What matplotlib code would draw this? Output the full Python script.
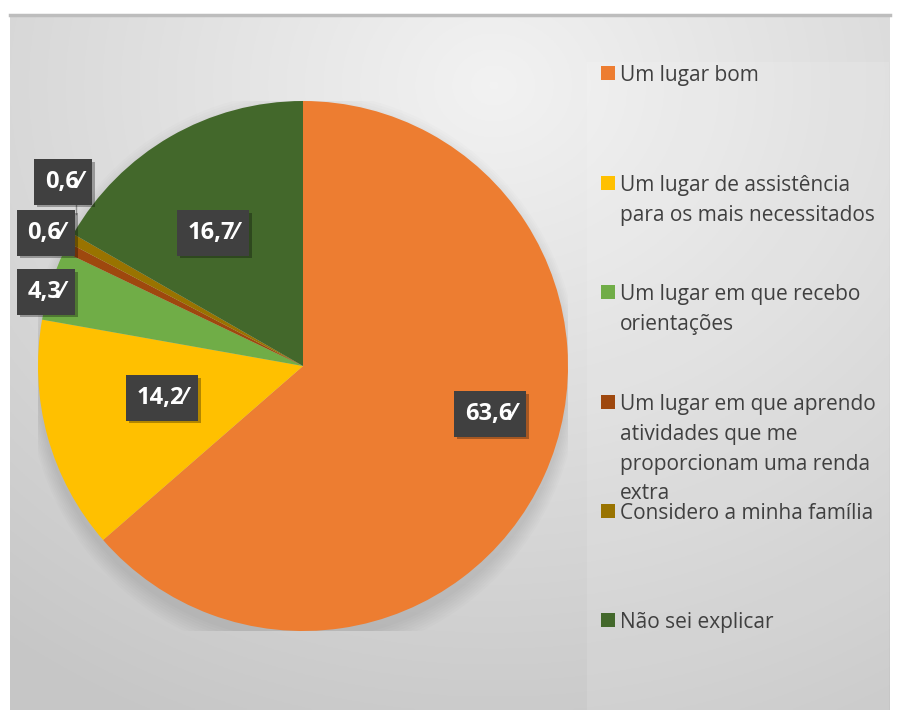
import numpy as np
import matplotlib.pyplot as plt
from matplotlib.patches import Rectangle, Ellipse
import matplotlib.patheffects as pe

# ---- data ----
categories = [
    "Um lugar bom",
    "Um lugar de assistência\npara os mais necessitados",
    "Um lugar em que recebo\norientações",
    "Um lugar em que aprendo\natividades que me\nproporcionam uma renda\nextra",
    "Considero a minha família",
    "Não sei explicar",
]
values = [63.6, 14.2, 4.3, 0.6, 0.6, 16.7]
colors = ["#ED7D31", "#FFC000", "#70AD47", "#9E480E", "#997300", "#43682B"]
value_labels = ["63,6⁄", "14,2⁄", "4,3⁄", "0,6⁄", "0,6⁄", "16,7⁄"]

# label box positions (pie data coords, radius = 1)
label_pos = [(0.706, -0.181), (-0.532, -0.121), (-0.970, 0.279),
             (-0.970, 0.502), (-0.905, 0.694), (-0.340, 0.502)]

W, H = 899, 710
plt.rcParams['font.family'] = ['Open Sans', 'DejaVu Sans']

fig = plt.figure(figsize=(W / 100, H / 100), dpi=100)
fig.patch.set_facecolor('white')

# ---- background gradient ----
bg = fig.add_axes([10 / W, 0, 880 / W, 695 / H])
bg.set_axis_off()
yy, xx = np.mgrid[0:1:300j, 0:1:400j]
dist = np.sqrt(((xx - 0.55) * 1.1) ** 2 + (yy - 0.1) ** 2)
shade = np.clip(0.95 - 0.17 * dist, 0.78, 0.95)
bg.imshow(np.dstack([shade] * 3), aspect='auto', extent=[0, 1, 0, 1], origin='upper')
bg.set_xlim(0, 1)
bg.set_ylim(0, 1)
# legend panel
bg.add_patch(Rectangle((577 / 880, 0), 302 / 880, (695 - 47) / 695,
                       facecolor='white', alpha=0.12, edgecolor='none'))
fig.add_artist(plt.Line2D([10 / W, 890 / W], [695 / H, 695 / H],
                          color='#bdbdbd', lw=2.5))

# ---- pie ----
ax = fig.add_axes([38 / W, 79 / H, 530 / W, 530 / H])
ax.set_axis_off()
ax.patch.set_alpha(0)

# soft shadow beneath pie
for i in range(8):
    ax.add_patch(Ellipse((0, -0.035), 2.0 + 0.012 * i, 2.0 + 0.02 * i,
                         facecolor='black', alpha=0.012, edgecolor='none', zorder=0))

wedges, _ = ax.pie(values, colors=colors, startangle=90, counterclock=False,
                   radius=1, wedgeprops=dict(linewidth=0))
for w in wedges:
    w.set_zorder(2)
ax.set_xlim(-1, 1)
ax.set_ylim(-1, 1)
ax.set_aspect('equal')

# leader line for the small olive slice label
lx, ly = label_pos[4]
ax.plot([lx + 0.05, lx + 0.05], [ly - 0.08, ly - 0.12], color='#8c8c8c', lw=1, zorder=3)

shadow = [pe.withSimplePatchShadow(offset=(2, -2), shadow_rgbFace='black', alpha=0.3)]
for (x, y), txt in zip(label_pos, value_labels):
    t = ax.text(x, y, txt, ha='center', va='center', color='white',
                fontsize=17, fontweight='bold', zorder=5,
                bbox=dict(boxstyle='square,pad=0.45', facecolor='#404040',
                          edgecolor='none'))
    t.get_bbox_patch().set_path_effects(shadow)

# ---- legend ----
leg_y = [73, 183, 292, 402, 511, 620]
for cat, col, py in zip(categories, colors, leg_y):
    fig.add_artist(Rectangle((601 / W, 1 - (py + 7) / H), 14 / W, 14 / H,
                             facecolor=col, edgecolor='none',
                             transform=fig.transFigure))
    fig.text(620 / W, 1 - (py - 8) / H, cat, ha='left', va='top',
             fontsize=15, color='#404040', linespacing=1.55)

fig.savefig('out.png', dpi=100)
